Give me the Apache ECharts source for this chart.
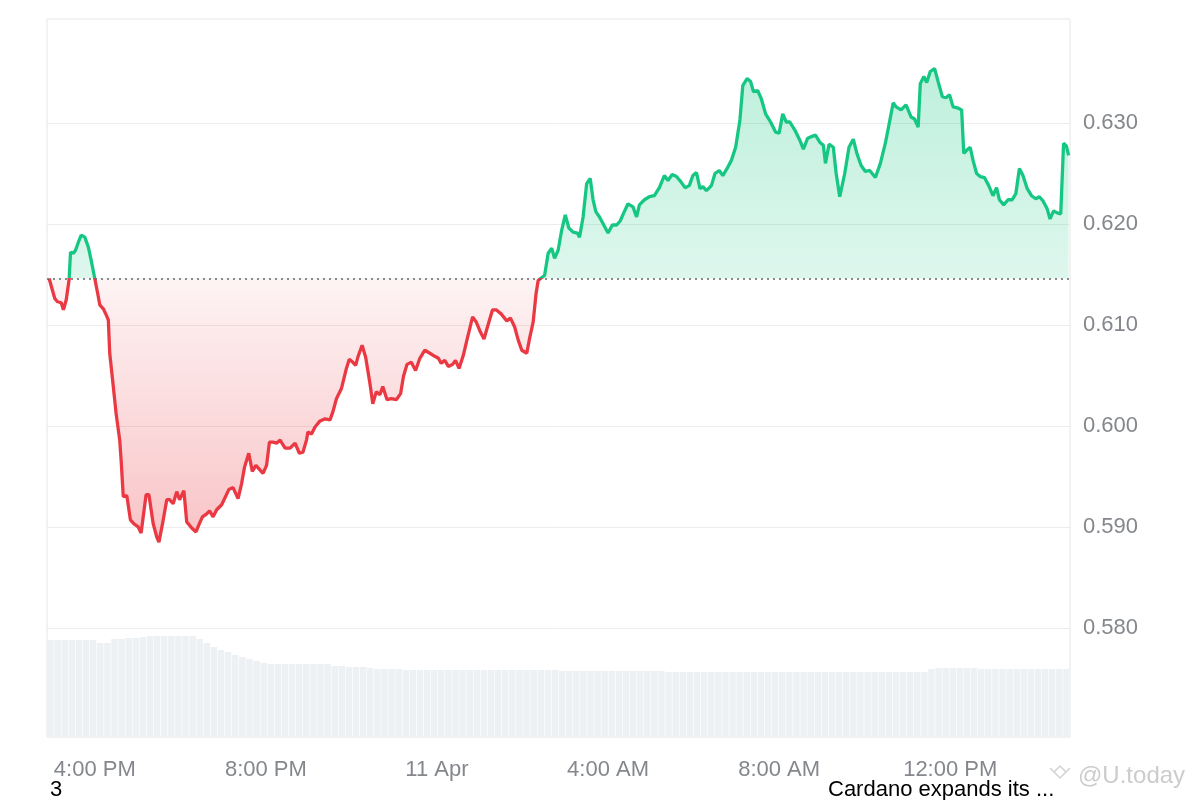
<!DOCTYPE html>
<html>
<head>
<meta charset="utf-8">
<script src="https://cdn.jsdelivr.net/npm/echarts@6/dist/echarts.min.js"></script>
<style>html,body{margin:0;padding:0;background:#fff;}#c{width:1200px;height:800px;}</style>
</head>
<body>
<div id="c"></div>
<script>
// minutes since 10 Apr 00:00
const times = [896,904,908,913,916,920,924,926,930,933,937,941,946,951,955,960,965,967,972,976,
979,981,986,990,995,997,1000,1005,1010,1015,1021,1025,1032,1036,1042,1047,1050,1055,1061,1065,
1070,1075,1079,1085,1089,1096,1102,1106,1111,1117,1121,1126,1131,1138,1142,1148,1154,1161,1166,1170,
1176,1181,1186,1191,1196,1201,1205,1210,1215,1220,1227,1234,1241,1247,1252,1257,1259,1264,1269,1276,
1283,1290,1294,1299,1306,1313,1317,1322,1326,1329,1335,1340,1346,1350,1355,1360,1364,1370,1376,1383,
1389,1393,1398,1404,1410,1416,1423,1430,1437,1442,1446,1451,1456,1462,1466,1471,1477,1482,1490,1495,
1501,1506,1510,1518,1523,1530,1538,1543,1549,1554,1559,1566,1570,1575,1579,1582,1587,1591,1596,1601,
1605,1610,1615,1620,1625,1631,1637,1640,1645,1650,1655,1659,1663,1668,1674,1680,1686,1692,1697,1702,
1708,1715,1720,1724,1731,1738,1745,1752,1759,1764,1770,1776,1782,1788,1794,1799,1804,1809,1813,1818,
1825,1830,1836,1841,1847,1853,1859,1865,1869,1875,1880,1884,1890,1895,1901,1908,1915,1920,1925,1930,
1935,1942,1949,1954,1960,1967,1971,1977,1982,1985,1990,1996,2000,2005,2012,2018,2024,2029,2035,2041,
2047,2055,2062,2069,2074,2080,2084,2091,2098,2105,2110,2115,2118,2123,2127,2132,2138,2143,2149,2154,
2159,2164,2170,2176,2179,2183,2188,2192,2197,2202,2208,2214,2220,2225,2229,2235,2241,2247,2252,2257,
2262,2268,2274,2280,2285,2290,2296,2300,2305,2310,2315,2319,2323,2326];

const prices = [0.6146,0.6126,0.6123,0.6122,0.6115,0.6125,0.6145,0.6172,0.6171,0.6174,
0.6182,0.6189,0.6187,0.6177,0.6164,0.6146,0.6128,0.6120,0.6116,0.6110,
0.6105,0.6072,0.6039,0.6012,0.5986,0.5966,0.5930,0.5931,0.5907,0.5903,
0.5900,0.5894,0.5932,0.5932,0.5903,0.5890,0.5885,0.5903,0.5927,0.5927,
0.5923,0.5935,0.5927,0.5936,0.5905,0.5899,0.5895,0.5902,0.5910,0.5913,
0.5916,0.5910,0.5917,0.5922,0.5928,0.5937,0.5939,0.5928,0.5943,0.5959,
0.5973,0.5955,0.5961,0.5957,0.5953,0.5961,0.5984,0.5984,0.5983,0.5986,
0.5978,0.5978,0.5983,0.5973,0.5974,0.5986,0.5994,0.5992,0.5999,0.6005,
0.6007,0.6006,0.6014,0.6027,0.6037,0.6057,0.6066,0.6063,0.6060,0.6068,
0.6080,0.6068,0.6042,0.6022,0.6034,0.6031,0.6039,0.6026,0.6027,0.6026,
0.6032,0.6049,0.6061,0.6063,0.6055,0.6067,0.6075,0.6072,0.6069,0.6067,
0.6062,0.6065,0.6059,0.6061,0.6065,0.6057,0.6070,0.6085,0.6108,0.6103,
0.6093,0.6086,0.6096,0.6115,0.6115,0.6111,0.6104,0.6107,0.6098,0.6085,
0.6075,0.6072,0.6087,0.6103,0.6131,0.6144,0.6147,0.6149,0.6171,0.6176,
0.6166,0.6174,0.6194,0.6209,0.6196,0.6192,0.6191,0.6187,0.6207,0.6240,
0.6245,0.6224,0.6212,0.6207,0.6199,0.6191,0.6199,0.6199,0.6203,0.6211,
0.6220,0.6217,0.6207,0.6219,0.6224,0.6227,0.6228,0.6236,0.6248,0.6243,
0.6249,0.6247,0.6242,0.6236,0.6238,0.6248,0.6251,0.6235,0.6237,0.6233,
0.6238,0.6250,0.6253,0.6248,0.6255,0.6263,0.6276,0.6303,0.6337,0.6344,
0.6341,0.6331,0.6332,0.6324,0.6309,0.6301,0.6291,0.6290,0.6309,0.6301,
0.6301,0.6293,0.6283,0.6274,0.6285,0.6287,0.6288,0.6281,0.6278,0.6260,
0.6279,0.6276,0.6250,0.6227,0.6250,0.6276,0.6284,0.6270,0.6258,0.6252,
0.6253,0.6246,0.6260,0.6280,0.6298,0.6320,0.6316,0.6313,0.6318,0.6306,
0.6304,0.6296,0.6339,0.6346,0.6340,0.6351,0.6354,0.6341,0.6326,0.6325,
0.6328,0.6316,0.6315,0.6313,0.6270,0.6273,0.6276,0.6263,0.6250,0.6247,
0.6246,0.6238,0.6228,0.6236,0.6224,0.6219,0.6224,0.6224,0.6230,0.6255,
0.6248,0.6235,0.6228,0.6225,0.6227,0.6223,0.6215,0.6205,0.6213,0.6211,
0.6210,0.6280,0.6277,0.6268];

// relative volume, one bar per 10 minutes
const volume = [97,97,97,97,97,97,97,94,94,98,98,99,99,100,101,101,101,101,101,101,101,
98,94,90,87,85,82,80,78,76,74,
73,73,73,73,73,73,73,73,73,
71,71,70,70,70,
69,68,68,68,68,
67,67,67,67,67,67,67,67,67,67,67,67,67,67,67,67,67,67,67,67,67,67,
66,66,66,66,66,66,66,66,66,66,66,66,66,66,66,
65,65,65,65,65,65,65,65,65,65,65,65,65,65,65,65,65,65,65,65,65,65,65,65,65,65,65,65,65,65,65,65,65,65,65,65,65,
68,69,69,69,69,69,69,68,68,68,68,68,68,68,68,68,68,68,68,68];

const xTickValues = [960,1200,1440,1680,1920,2160];
const xTickLabels = ['4:00 PM','8:00 PM','11 Apr','4:00 AM','8:00 AM','12:00 PM'];
const yTickValues = [0.58,0.59,0.60,0.61,0.62,0.63];
const footerLeft = '3';
const footerRight = 'Cardano expands its ...';
const watermark = '@U.today';

const GREEN = '#16c784', RED = '#ea3943';
const FONT = '"Liberation Sans", Arial, Helvetica, sans-serif';
const base = prices[0];
const maxP = Math.max(...prices), minP = Math.min(...prices);
const pBase = (maxP - base) / (maxP - minP);

const chart = echarts.init(document.getElementById('c'), null, {renderer: 'canvas'});
const option = {
  animation: false,
  backgroundColor: '#ffffff',
  textStyle: {fontFamily: FONT},
  grid: [
    {left: 47, right: 130, top: 19, bottom: 63, show: true, borderColor: '#e6e6e6', borderWidth: 1, backgroundColor: 'transparent'},
    {left: 47, right: 130, top: 632, bottom: 63}
  ],
  xAxis: [
    {
      type: 'value', gridIndex: 0, min: 893, max: 2328,
      axisLine: {show: false},
      axisTick: {show: false, customValues: xTickValues},
      splitLine: {show: false},
      axisLabel: {
        customValues: xTickValues,
        formatter: v => xTickLabels[xTickValues.indexOf(v)],
        fontSize: 22, color: '#84878c', margin: 22, fontFamily: FONT
      }
    },
    {type: 'category', gridIndex: 1, data: volume.map((_, i) => i), show: false}
  ],
  yAxis: [
    {
      type: 'value', gridIndex: 0, position: 'right', min: 0.5692, max: 0.6403,
      axisLine: {show: false},
      axisTick: {show: false, customValues: yTickValues},
      axisLabel: {
        customValues: yTickValues,
        formatter: v => v.toFixed(3),
        fontSize: 22, color: '#84878c', margin: 13, fontFamily: FONT
      },
      splitLine: {show: true, lineStyle: {color: '#ececec', width: 1}}
    },
    {type: 'value', gridIndex: 1, min: 0, max: 105, show: false}
  ],
  series: [
    {
      type: 'bar', xAxisIndex: 1, yAxisIndex: 1, data: volume,
      barCategoryGap: '8%', itemStyle: {color: '#eef1f4'}, silent: true
    },
    {
      type: 'line', xAxisIndex: 0, yAxisIndex: 0,
      data: times.map((t, i) => [t, prices[i]]),
      symbol: 'none', showSymbol: false,
      lineStyle: {
        width: 3.3,
        color: new echarts.graphic.LinearGradient(0, 0, 0, 1, [
          {offset: 0, color: GREEN},
          {offset: pBase, color: GREEN},
          {offset: pBase, color: RED},
          {offset: 1, color: RED}
        ])
      },
      areaStyle: {
        origin: base,
        opacity: 1,
        color: new echarts.graphic.LinearGradient(0, 0, 0, 1, [
          {offset: 0, color: 'rgba(22,199,132,0.28)'},
          {offset: pBase, color: 'rgba(22,199,132,0.14)'},
          {offset: pBase, color: 'rgba(234,57,67,0.06)'},
          {offset: 1, color: 'rgba(234,57,67,0.30)'}
        ])
      },
      markLine: {
        silent: true, symbol: 'none', precision: 6, label: {show: false},
        lineStyle: {type: [2, 4], color: '#666', width: 1.5},
        data: [{yAxis: base}]
      },
      z: 3
    }
  ],
  graphic: [
    {type: 'text', x: 50, y: 790, style: {text: footerLeft, fontSize: 22, fontFamily: FONT, fill: '#000', verticalAlign: 'middle'}},
    {type: 'text', x: 828, y: 790, style: {text: footerRight, fontSize: 22, fontFamily: FONT, fill: '#000', verticalAlign: 'middle'}},
    {type: 'polyline', shape: {points: [[1050, 768], [1060, 778], [1070, 768]]}, style: {stroke: '#d2d2d2', lineWidth: 1.5, fill: null}},
    {type: 'polyline', shape: {points: [[1054, 772], [1060, 766], [1066, 772]]}, style: {stroke: '#d2d2d2', lineWidth: 1.5, fill: null}},
    {type: 'text', x: 1078, y: 776, style: {text: watermark, fontSize: 24, fontFamily: FONT, fill: '#cccccc', verticalAlign: 'middle'}}
  ]
};
chart.setOption(option);
</script>
</body>
</html>
